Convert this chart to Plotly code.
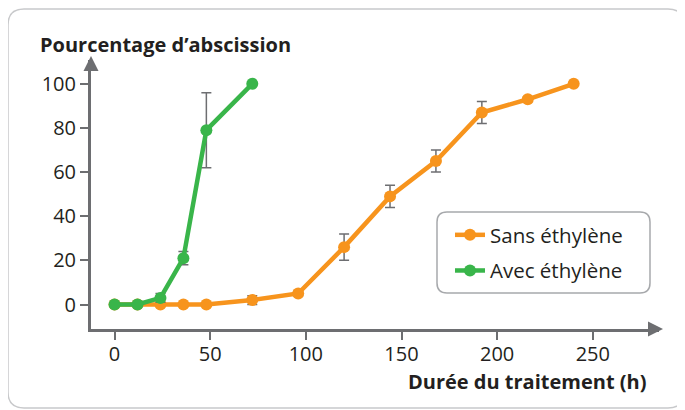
import plotly.graph_objects as go

# Data
hours_sans = [0, 12, 24, 36, 48, 72, 96, 120, 144, 168, 192, 216, 240]
pct_sans = [0, 0, 0, 0, 0, 2, 5, 26, 49, 65, 87, 93, 100]
err_sans = [0, 0, 0, 0, 0, 2, 1, 6, 5, 5, 5, 1, 0]

hours_avec = [0, 12, 24, 36, 48, 72]
pct_avec = [0, 0, 3, 21, 79, 100]
err_avec = [0, 0, 2, 3, 17, 0]

x_ticks = [0, 50, 100, 150, 200, 250]
y_ticks = [0, 20, 40, 60, 80, 100]

ORANGE = "#f7941d"
GREEN = "#39b54a"
AXIS = "#6d6e71"
TEXT = "#231f20"
FONT = "Open Sans"

# page body has an 8px margin: figure placed at (8, 8) on screen
OX, OY = 8, 8
W, H = 685 - OX, 410 - OY
PL, PT, PR, PB = 91, 60, 659, 329  # plot area in screen px
L, T, R, B = PL - OX, PT - OY, W - (PR - OX), H - (PB - OY)
PW, PH = W - L - R, H - T - B


def px(x, y):
    return (x - OX - L) / PW, (H - B - (y - OY)) / PH


def rounded_rect(x0, y0, x1, y1, r):
    def P(x, y):
        a, b = px(x, y)
        return f"{a:.5f},{b:.5f}"
    return (f"M {P(x0 + r, y0)} L {P(x1 - r, y0)} Q {P(x1, y0)} {P(x1, y0 + r)} "
            f"L {P(x1, y1 - r)} Q {P(x1, y1)} {P(x1 - r, y1)} L {P(x0 + r, y1)} "
            f"Q {P(x0, y1)} {P(x0, y1 - r)} L {P(x0, y0 + r)} Q {P(x0, y0)} {P(x0 + r, y0)} Z")


def poly(points):
    s = []
    for i, (x, y) in enumerate(points):
        a, b = px(x, y)
        s.append(("M " if i == 0 else "L ") + f"{a:.5f},{b:.5f}")
    return " ".join(s) + " Z"


fig = go.Figure()
fig.add_trace(go.Scatter(
    x=hours_sans, y=pct_sans, name="Sans éthylène", mode="lines+markers", legendgroup="a",
    line=dict(color=ORANGE, width=4.5), marker=dict(color=ORANGE, size=12),
    error_y=dict(type="data", array=err_sans, color=AXIS, thickness=1.5, width=5),
))
fig.add_trace(go.Scatter(
    x=hours_avec, y=pct_avec, name="Avec éthylène", mode="lines+markers", legendgroup="b",
    line=dict(color=GREEN, width=4.5), marker=dict(color=GREEN, size=12),
    error_y=dict(type="data", array=err_avec, color=AXIS, thickness=1.5, width=5),
))

shapes = [
    dict(type="path", xref="paper", yref="paper", path=rounded_rect(8, 9, 684, 408, 16),
         line=dict(color="#c8c9cb", width=1.5), layer="below"),
    dict(type="path", xref="paper", yref="paper", path=rounded_rect(437, 212, 650, 293, 10),
         line=dict(color="#a7a9ac", width=1.5), fillcolor="white", layer="above"),
    dict(type="path", xref="paper", yref="paper", path=poly([(91, 56), (83.5, 71), (98.5, 71)]),
         line=dict(width=0), fillcolor=AXIS),
    dict(type="path", xref="paper", yref="paper", path=poly([(663, 329), (648, 321.5), (648, 336.5)]),
         line=dict(width=0), fillcolor=AXIS),
]

fig.update_layout(
    width=W, height=H,
    margin=dict(l=L, r=R, t=T, b=B, autoexpand=False),
    paper_bgcolor="white", plot_bgcolor="white",
    font=dict(family=FONT, color=TEXT, size=20),
    showlegend=True,
    legend=dict(x=px(450, 0)[0], y=px(0, 215)[1], xanchor="left", yanchor="top",
                bgcolor="rgba(0,0,0,0)", borderwidth=0, font=dict(size=20.5, color=TEXT),
                itemwidth=30, traceorder="grouped", tracegroupgap=6),
    shapes=shapes,
    xaxis=dict(range=[-12.3, 284.6], tickvals=x_ticks, ticktext=[str(v) for v in x_ticks],
               showgrid=False, zeroline=False, showline=True, linecolor=AXIS, linewidth=3,
               ticks="outside", ticklen=8, tickwidth=1.5, tickcolor=AXIS,
               tickfont=dict(size=20, color=TEXT), ticklabelstandoff=-3),
    yaxis=dict(range=[-11.1, 110.8], tickvals=y_ticks, ticktext=[str(v) for v in y_ticks],
               showgrid=False, zeroline=False, showline=True, linecolor=AXIS, linewidth=3,
               ticks="outside", ticklen=8, tickwidth=1.5, tickcolor=AXIS,
               tickfont=dict(size=20, color=TEXT)),
    annotations=[
        dict(text="<b>Pourcentage d’abscission</b>", xref="paper", yref="paper",
             x=px(38, 0)[0], y=px(0, 44)[1], xanchor="left", yanchor="middle",
             showarrow=False, font=dict(size=20, color=TEXT)),
        dict(text="<b>Durée du traitement (h)</b>", xref="paper", yref="paper",
             x=px(648, 0)[0], y=px(0, 381)[1], xanchor="right", yanchor="middle",
             showarrow=False, font=dict(size=20, color=TEXT)),
    ],
)

fig.write_html("out.html")
